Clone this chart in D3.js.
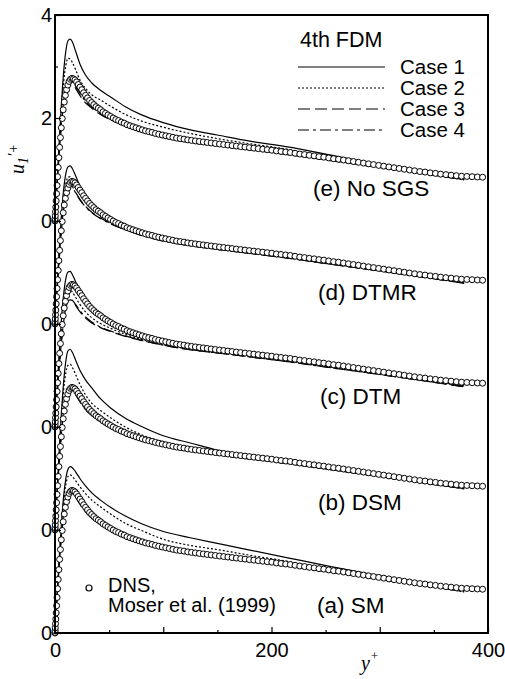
<!DOCTYPE html>
<html><head><meta charset="utf-8">
<script src="https://cdn.jsdelivr.net/npm/d3@7"></script>
<style>body{margin:0;background:#fff}</style>
</head><body>
<svg id="c" width="505" height="679"></svg>
<script>
// ---- DNS (Moser et al. 1999) profile, plotted in every panel ----
const dnsYPlus = [0,0.03,0.12,0.27,0.48,0.74,1.07,1.46,1.90,2.41,2.97,3.59,4.28,5.02,5.82,6.67,7.59,8.57,9.60,10.69,11.84,13.04,14.31,15.63,17.01,18.45,19.94,21.48,23.08,24.75,26.47,28.25,30.07,31.96,33.88,35.88,37.91,40.03,42.17,44.39,46.64,48.96,51.31,53.74,56.20,58.73,61.29,63.91,66.57,69.30,72.06,74.89,77.74,80.66,83.60,86.63,89.68,92.74,95.83,99.08,102.35,105.62,108.92,112.30,115.69,119.15,122.63,126.15,129.68,133.33,137.0,140.64,144.29,148.13,151.98,155.86,159.75,163.65,167.56,171.55,175.55,179.6,183.68,187.8,191.94,196.1,200.3,204.55,208.8,213.1,217.4,221.75,226.11,230.5,234.93,239.4,243.84,248.3,252.84,257.4,261.93,266.5,271.1,275.7,280.34,285.0,289.65,294.3,299.01,303.7,308.46,313.2,317.94,322.7,327.47,332.25,337.04,341.85,346.65,351.5,356.28,361.1,365.94,370.8,375.62,380.5,385.31,390.2,395];
const dnsU = [0,0.011,0.044,0.10,0.18,0.27,0.39,0.53,0.69,0.86,1.04,1.23,1.43,1.62,1.81,1.99,2.16,2.31,2.44,2.55,2.64,2.71,2.75,2.77,2.76,2.74,2.70,2.65,2.60,2.55,2.49,2.44,2.39,2.34,2.30,2.26,2.22,2.19,2.16,2.12,2.09,2.06,2.03,2.00,1.97,1.95,1.92,1.90,1.87,1.85,1.83,1.81,1.79,1.77,1.75,1.735,1.72,1.70,1.685,1.67,1.655,1.64,1.625,1.61,1.60,1.59,1.575,1.565,1.555,1.545,1.535,1.525,1.515,1.505,1.495,1.485,1.475,1.465,1.455,1.445,1.435,1.425,1.415,1.405,1.395,1.385,1.375,1.36,1.35,1.34,1.33,1.315,1.30,1.29,1.275,1.265,1.25,1.24,1.225,1.21,1.20,1.185,1.17,1.155,1.14,1.125,1.11,1.095,1.08,1.065,1.05,1.035,1.02,1.005,0.99,0.975,0.96,0.95,0.935,0.925,0.91,0.90,0.89,0.88,0.87,0.865,0.86,0.855,0.85];

// ---- LES profiles (4th FDM), common y+ stations ----
const lesYPlus = [0,2,4,6,8,10,12,14,16,19,23,28,34,42,52,65,80,100,125,150,180,215,255,300,340,378];
// (a) SM
const smCase1 = [0,0.76,1.48,2.14,2.66,3.00,3.18,3.23,3.21,3.13,3.00,2.86,2.72,2.58,2.43,2.27,2.12,1.97,1.85,1.74,1.61,1.46,1.29,1.11,0.96,0.82];
const smCase2 = [0,0.74,1.44,2.06,2.56,2.88,3.04,3.07,3.04,2.96,2.84,2.71,2.58,2.45,2.30,2.13,1.99,1.82,1.70,1.62,1.51,1.39,1.22,1.06,0.93,0.80];
const smCase3 = [0,0.70,1.34,1.88,2.30,2.58,2.73,2.77,2.74,2.64,2.50,2.35,2.23,2.11,1.99,1.86,1.75,1.64,1.54,1.47,1.39,1.30,1.18,1.05,0.93,0.80];
const smCase4 = [0,0.71,1.36,1.90,2.33,2.61,2.76,2.79,2.76,2.66,2.52,2.36,2.24,2.12,2.00,1.87,1.75,1.64,1.54,1.47,1.39,1.30,1.18,1.05,0.93,0.80];
// (b) DSM
const dsmCase1 = [0,0.80,1.58,2.30,2.88,3.28,3.48,3.51,3.45,3.30,3.10,2.92,2.76,2.55,2.36,2.17,2.01,1.83,1.69,1.55,1.43,1.32,1.18,1.05,0.93,0.81];
const dsmCase2 = [0,0.76,1.50,2.18,2.72,3.05,3.20,3.22,3.16,3.02,2.83,2.63,2.46,2.32,2.17,2.00,1.85,1.71,1.60,1.51,1.41,1.31,1.17,1.04,0.92,0.80];
const dsmCase3 = [0,0.70,1.34,1.88,2.30,2.58,2.74,2.78,2.74,2.63,2.49,2.34,2.22,2.10,1.98,1.85,1.74,1.63,1.53,1.46,1.38,1.29,1.17,1.04,0.92,0.80];
const dsmCase4 = [0,0.71,1.36,1.90,2.33,2.61,2.77,2.80,2.76,2.65,2.50,2.35,2.23,2.11,1.99,1.86,1.75,1.63,1.53,1.46,1.38,1.29,1.17,1.04,0.92,0.80];
// (c) DTM
const dtmCase1 = [0,0.76,1.48,2.10,2.58,2.88,3.01,3.02,2.96,2.82,2.64,2.46,2.31,2.18,2.03,1.88,1.76,1.64,1.54,1.47,1.39,1.30,1.17,1.04,0.92,0.80];
const dtmCase2 = [0,0.68,1.30,1.82,2.22,2.48,2.62,2.66,2.62,2.52,2.38,2.24,2.12,2.01,1.91,1.80,1.70,1.60,1.51,1.44,1.37,1.28,1.16,1.03,0.91,0.79];
const dtmCase3 = [0,0.62,1.18,1.66,2.04,2.30,2.44,2.47,2.44,2.36,2.24,2.12,2.02,1.93,1.85,1.76,1.68,1.59,1.50,1.44,1.36,1.27,1.15,1.02,0.90,0.78];
const dtmCase4 = [0,0.63,1.20,1.68,2.06,2.32,2.46,2.49,2.46,2.38,2.26,2.14,2.04,1.94,1.86,1.77,1.68,1.59,1.50,1.44,1.36,1.27,1.15,1.02,0.90,0.78];
// (d) DTMR
const dtmrCase1 = [0,0.76,1.48,2.12,2.62,2.92,3.05,3.07,3.02,2.88,2.68,2.48,2.33,2.19,2.04,1.88,1.76,1.64,1.54,1.47,1.39,1.30,1.17,1.04,0.92,0.80];
const dtmrCase2 = [0,0.72,1.40,1.98,2.42,2.72,2.85,2.86,2.80,2.68,2.52,2.37,2.24,2.11,1.98,1.85,1.74,1.63,1.53,1.46,1.38,1.29,1.17,1.04,0.92,0.80];
const dtmrCase3 = [0,0.68,1.32,1.86,2.28,2.56,2.70,2.72,2.67,2.56,2.42,2.29,2.17,2.06,1.95,1.83,1.72,1.62,1.52,1.45,1.37,1.28,1.16,1.03,0.91,0.79];
const dtmrCase4 = [0,0.66,1.28,1.82,2.24,2.52,2.66,2.69,2.65,2.55,2.41,2.28,2.16,2.05,1.94,1.83,1.72,1.61,1.52,1.45,1.37,1.28,1.16,1.03,0.91,0.79];
// (e) No SGS
const nosgsCase1 = [0,0.80,1.58,2.30,2.90,3.30,3.50,3.53,3.48,3.30,3.05,2.84,2.68,2.54,2.40,2.22,2.06,1.91,1.77,1.67,1.55,1.44,1.28,1.09,0.95,0.81];
const nosgsCase2 = [0,0.76,1.50,2.18,2.70,3.02,3.16,3.15,3.08,2.94,2.74,2.58,2.45,2.35,2.22,2.07,1.94,1.82,1.70,1.60,1.50,1.39,1.22,1.06,0.93,0.80];
const nosgsCase3 = [0,0.70,1.34,1.88,2.30,2.58,2.72,2.75,2.70,2.58,2.44,2.30,2.19,2.07,1.96,1.84,1.73,1.62,1.52,1.46,1.38,1.29,1.17,1.04,0.92,0.80];
const nosgsCase4 = [0,0.72,1.38,1.92,2.34,2.62,2.76,2.78,2.73,2.62,2.48,2.33,2.21,2.09,1.97,1.85,1.74,1.63,1.53,1.47,1.39,1.30,1.18,1.05,0.93,0.81];

const panelLabels = ["(a) SM","(b) DSM","(c) DTM","(d) DTMR","(e) No SGS"];
const panelOffsets = [0,2,4,6,8];
const caseNames = ["Case 1","Case 2","Case 3","Case 4"];
const legendTitle = "4th FDM";
const xMajorTicks = [0,100,200,300,400];
const xMinorTicks = [50,150,250,350];
const xTickLabels = {0:"0",200:"200",400:"400"};
const yMajorTicks = [0,2,4,6,8,10,12];
const yMinorTicks = [1,3,5,7,9,11];
const yTickLabels = ["0","0","0","0","0","2","4"];

const panelCases = [
  [smCase1,smCase2,smCase3,smCase4],
  [dsmCase1,dsmCase2,dsmCase3,dsmCase4],
  [dtmCase1,dtmCase2,dtmCase3,dtmCase4],
  [dtmrCase1,dtmrCase2,dtmrCase3,dtmrCase4],
  [nosgsCase1,nosgsCase2,nosgsCase3,nosgsCase4]
];

const svg = d3.select("#c");
const L = 55, R = 488, T = 15, B = 633;
const x = d3.scaleLinear().domain([0,400]).range([L,R]);
const y = d3.scaleLinear().domain([0,12]).range([B,T]);
const dashes = [null,"2,2","12,5","11,4,3,4"];
const sans = "'Liberation Sans', Arial, Helvetica, sans-serif";
const serif = "'Liberation Serif', 'Times New Roman', serif";

const line = d3.line().x(d=>x(d[0])).y(d=>y(d[1])).curve(d3.curveMonotoneX);

const gLines = svg.append("g");
panelCases.forEach((cases,pi)=>{
  const off = panelOffsets[pi];
  cases.forEach((vals,ci)=>{
    const pts = lesYPlus.map((yp,i)=>[yp, vals[i]+off]);
    gLines.append("path").attr("d",line(pts)).attr("fill","none")
      .attr("stroke","#000").attr("stroke-width",1.2)
      .attr("stroke-dasharray",dashes[ci]);
  });
});

const gDns = svg.append("g");
panelOffsets.forEach(off=>{
  gDns.selectAll(null).data(dnsYPlus.map((yp,i)=>[yp,dnsU[i]+off])).enter()
    .append("circle").attr("cx",d=>x(d[0])).attr("cy",d=>y(d[1])).attr("r",3)
    .attr("fill","#fff").attr("stroke","#000").attr("stroke-width",1);
});

// frame
svg.append("rect").attr("x",L).attr("y",T).attr("width",R-L).attr("height",B-T)
  .attr("fill","none").attr("stroke","#000").attr("stroke-width",2);

// axes
svg.append("g").attr("transform",`translate(0,${B})`)
  .call(d3.axisBottom(x).tickValues(xMajorTicks).tickSize(-6).tickPadding(10)
    .tickFormat(d=>xTickLabels[d]||""));
svg.append("g").attr("transform",`translate(0,${B})`)
  .call(d3.axisBottom(x).tickValues(xMinorTicks).tickSize(-3).tickFormat(""));
svg.append("g").attr("transform",`translate(${L},0)`)
  .call(d3.axisLeft(y).tickValues(yMajorTicks).tickSize(-6).tickPadding(3)
    .tickFormat((d,i)=>yTickLabels[i]));
svg.append("g").attr("transform",`translate(${L},0)`)
  .call(d3.axisLeft(y).tickValues(yMinorTicks).tickSize(-3).tickFormat(""));
svg.selectAll(".domain").remove();
svg.selectAll(".tick line").attr("stroke","#000").attr("stroke-width",1.2);
svg.selectAll(".tick text").attr("font-family",sans).attr("font-size",20).attr("fill","#000");

// axis titles
const yl = svg.append("text").attr("transform","translate(24,159) rotate(-90)")
  .attr("text-anchor","middle").attr("font-family",serif).attr("font-style","italic").attr("font-size",20);
yl.append("tspan").text("u");
yl.append("tspan").attr("font-size",14).attr("dy",4).text("1");
yl.append("tspan").attr("font-size",16).attr("dy",-9).text("\u2032");
yl.append("tspan").attr("font-size",14).attr("dy",-1).text("+");

const xl = svg.append("text").attr("x",361).attr("y",670)
  .attr("font-family",serif).attr("font-style","italic").attr("font-size",20);
xl.append("tspan").text("y");
xl.append("tspan").attr("font-size",13).attr("dy",-10).text("+");

// panel labels
const panelLabelPos = [[317,613],[318,510],[320,404],[318,300],[313,196]];
panelLabels.forEach((t,i)=>{
  svg.append("text").attr("x",panelLabelPos[i][0]).attr("y",panelLabelPos[i][1])
    .attr("font-family",sans).attr("font-size",22.5).text(t);
});

// legend
svg.append("text").attr("x",300).attr("y",47).attr("font-family",sans).attr("font-size",21.5).text(legendTitle);
caseNames.forEach((t,i)=>{
  const yy = 67 + i*21;
  svg.append("line").attr("x1",298).attr("x2",385).attr("y1",yy).attr("y2",yy)
    .attr("stroke","#000").attr("stroke-width",1.2).attr("stroke-dasharray",dashes[i]);
  svg.append("text").attr("x",400).attr("y",yy+7).attr("font-family",sans).attr("font-size",20.5).text(t);
});
svg.append("circle").attr("cx",89).attr("cy",588).attr("r",3).attr("fill","#fff").attr("stroke","#000").attr("stroke-width",1.2);
svg.append("text").attr("x",108).attr("y",592).attr("font-family",sans).attr("font-size",20).text("DNS,");
svg.append("text").attr("x",108).attr("y",612).attr("font-family",sans).attr("font-size",20).text("Moser et al. (1999)");
</script>
</body></html>
